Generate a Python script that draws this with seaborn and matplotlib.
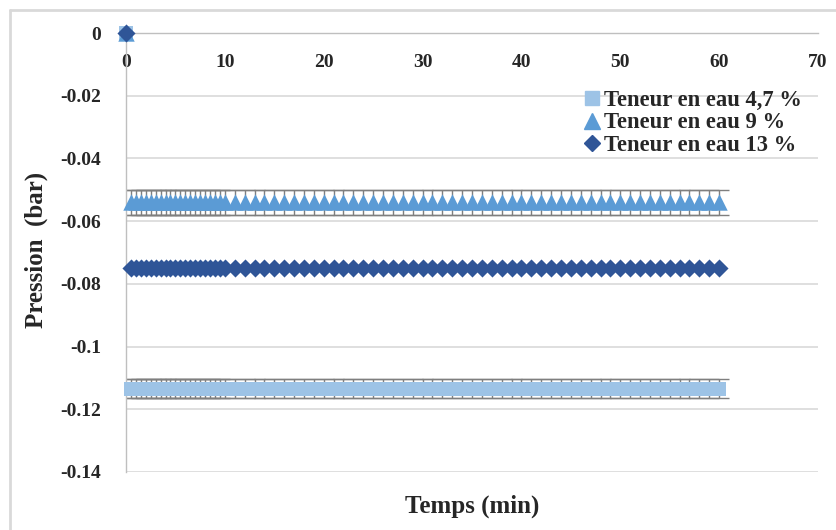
import pandas as pd
import matplotlib.pyplot as plt
import seaborn as sns
from matplotlib.lines import Line2D
from matplotlib.ticker import FuncFormatter

# Time readings (min): one reading at 0, every 0.5 min up to 10, then every minute
temps = [0, 0.5, 1, 1.5, 2, 2.5, 3, 3.5, 4, 4.5, 5, 5.5, 6, 6.5, 7, 7.5, 8, 8.5, 9, 9.5, 10,
         11, 12, 13, 14, 15, 16, 17, 18, 19, 20, 21, 22, 23, 24, 25, 26, 27, 28, 29, 30,
         31, 32, 33, 34, 35, 36, 37, 38, 39, 40, 41, 42, 43, 44, 45, 46, 47, 48, 49, 50,
         51, 52, 53, 54, 55, 56, 57, 58, 59, 60]

# Pressure (bar) for each water content
p_47 = [0,
    -0.1135, -0.1135, -0.1135, -0.1135, -0.1135, -0.1135, -0.1135, -0.1135, -0.1135, -0.1135,
    -0.1135, -0.1135, -0.1135, -0.1135, -0.1135, -0.1135, -0.1135, -0.1135, -0.1135, -0.1135,
    -0.1135, -0.1135, -0.1135, -0.1135, -0.1135, -0.1135, -0.1135, -0.1135, -0.1135, -0.1135,
    -0.1135, -0.1135, -0.1135, -0.1135, -0.1135, -0.1135, -0.1135, -0.1135, -0.1135, -0.1135,
    -0.1135, -0.1135, -0.1135, -0.1135, -0.1135, -0.1135, -0.1135, -0.1135, -0.1135, -0.1135,
    -0.1135, -0.1135, -0.1135, -0.1135, -0.1135, -0.1135, -0.1135, -0.1135, -0.1135, -0.1135,
    -0.1135, -0.1135, -0.1135, -0.1135, -0.1135, -0.1135, -0.1135, -0.1135, -0.1135, -0.1135]
p_9 = [0,
    -0.054, -0.054, -0.054, -0.054, -0.054, -0.054, -0.054, -0.054, -0.054, -0.054,
    -0.054, -0.054, -0.054, -0.054, -0.054, -0.054, -0.054, -0.054, -0.054, -0.054,
    -0.054, -0.054, -0.054, -0.054, -0.054, -0.054, -0.054, -0.054, -0.054, -0.054,
    -0.054, -0.054, -0.054, -0.054, -0.054, -0.054, -0.054, -0.054, -0.054, -0.054,
    -0.054, -0.054, -0.054, -0.054, -0.054, -0.054, -0.054, -0.054, -0.054, -0.054,
    -0.054, -0.054, -0.054, -0.054, -0.054, -0.054, -0.054, -0.054, -0.054, -0.054,
    -0.054, -0.054, -0.054, -0.054, -0.054, -0.054, -0.054, -0.054, -0.054, -0.054]
p_13 = [0,
    -0.075, -0.075, -0.075, -0.075, -0.075, -0.075, -0.075, -0.075, -0.075, -0.075,
    -0.075, -0.075, -0.075, -0.075, -0.075, -0.075, -0.075, -0.075, -0.075, -0.075,
    -0.075, -0.075, -0.075, -0.075, -0.075, -0.075, -0.075, -0.075, -0.075, -0.075,
    -0.075, -0.075, -0.075, -0.075, -0.075, -0.075, -0.075, -0.075, -0.075, -0.075,
    -0.075, -0.075, -0.075, -0.075, -0.075, -0.075, -0.075, -0.075, -0.075, -0.075,
    -0.075, -0.075, -0.075, -0.075, -0.075, -0.075, -0.075, -0.075, -0.075, -0.075,
    -0.075, -0.075, -0.075, -0.075, -0.075, -0.075, -0.075, -0.075, -0.075, -0.075]

# Error (bar) shown on the readings after t = 0
err_47 = 0.003
err_9 = 0.004

labels = ["Teneur en eau 4,7 %", "Teneur en eau 9 %", "Teneur en eau 13 %"]
colors = ["#9DC3E6", "#5B9BD5", "#2F5597"]
markers = ["s", "^", "D"]
sizes = [105, 140, 85]

x_ticks = [0, 10, 20, 30, 40, 50, 60, 70]
y_ticks = [0, -0.02, -0.04, -0.06, -0.08, -0.1, -0.12, -0.14]

sns.set_style("white")
plt.rcParams['font.family'] = ['Liberation Serif', 'DejaVu Serif']
plt.rcParams['font.weight'] = 'bold'
plt.rcParams['axes.unicode_minus'] = False

df = pd.DataFrame({"Temps": temps, labels[0]: p_47, labels[1]: p_9, labels[2]: p_13})

fig = plt.figure(figsize=(8.36, 5.30), dpi=100)
ax = fig.add_axes([126 / 836, 1 - 472 / 530, 692 / 836, 439 / 530])

# Error bars first, markers drawn on top
for col, err in [(labels[0], err_47), (labels[1], err_9)]:
    ax.errorbar(df["Temps"][1:], df[col][1:], yerr=err, fmt="none", ecolor="#7f7f7f",
                elinewidth=1, capsize=7.5, capthick=1, zorder=2)

for col, color, marker, s in zip(labels, colors, markers, sizes):
    sns.scatterplot(data=df, x="Temps", y=col, marker=marker, s=s, color=color,
                    linewidth=0, clip_on=False, zorder=3, ax=ax)

ax.set_xlim(0, 70)
ax.set_ylim(-0.14, 0)
ax.set_xticks(x_ticks)
ax.set_yticks(y_ticks)
ax.yaxis.set_major_formatter(FuncFormatter(lambda v, p: "%g" % v))
ax.tick_params(axis="both", length=0, labelsize=14)
ax.tick_params(axis="x", pad=15)
ax.tick_params(axis="y", pad=18)

ax.grid(axis="y", color="#d9d9d9", linewidth=1.2)
ax.grid(axis="x", visible=False)
for side in ["top", "right"]:
    ax.spines[side].set_visible(False)
ax.spines["bottom"].set_position(("data", 0))
ax.spines["bottom"].set_color("#bfbfbf")
ax.spines["left"].set_color("#bfbfbf")
ax.spines["bottom"].set_linewidth(1)
ax.spines["left"].set_linewidth(1)

ax.set_xlabel("Temps (min)", fontsize=18, fontweight="bold")
ax.set_ylabel("Pression  (bar)", fontsize=18, fontweight="bold")
ax.xaxis.set_label_coords(0.5, -0.077)
ax.xaxis.label.set_va("center")
ax.yaxis.set_label_coords(-0.13, 0.506)
ax.yaxis.label.set_va("center")

handles = [Line2D([], [], linestyle="none", marker=m, color=c, markersize=ms)
           for m, c, ms in zip(markers, colors, [10, 11, 8.5])]
ax.legend(handles, labels, loc="upper left", bbox_to_anchor=(572 / 836, 1 - 79 / 530),
          bbox_transform=fig.transFigure, frameon=False, fontsize=16.3,
          handlelength=0.75, handletextpad=0.15, labelspacing=0.05, borderpad=0)

# chart-area border (left and top visible in the crop)
fig.add_artist(Line2D([10 / 836, 10 / 836], [0, 1 - 10 / 530], transform=fig.transFigure,
                      color="#d9d9d9", linewidth=2))
fig.add_artist(Line2D([10 / 836, 1], [1 - 10 / 530, 1 - 10 / 530], transform=fig.transFigure,
                      color="#d9d9d9", linewidth=2))

fig.savefig("out.png", dpi=100)
